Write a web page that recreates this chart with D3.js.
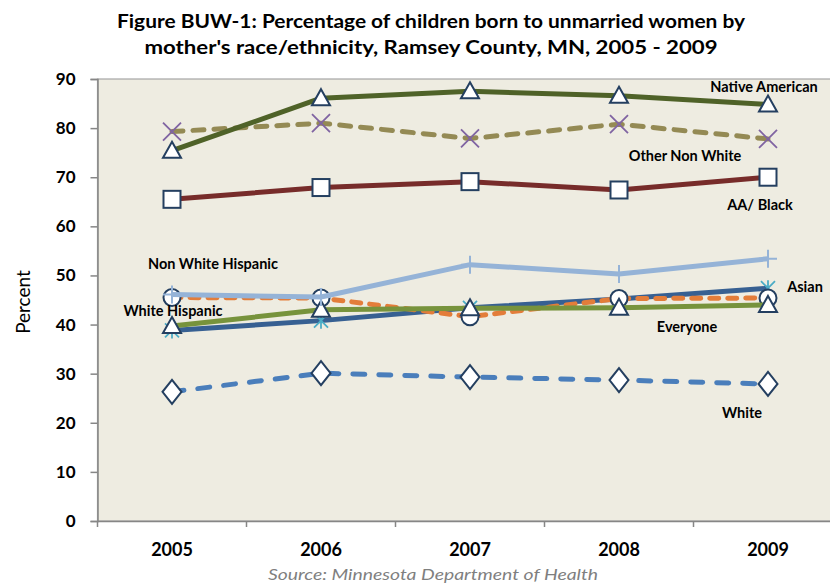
<!DOCTYPE html>
<html>
<head>
<meta charset="utf-8">
<script src="https://cdn.jsdelivr.net/npm/d3@7"></script>
<style>
  body { margin: 0; background: #fff; }
  svg { display: block; }
</style>
</head>
<body>
<div id="chart"></div>
<script>
// data
const years = ["2005", "2006", "2007", "2008", "2009"];
const white = [26.3, 30.1, 29.3, 28.7, 27.9];
const aaBlack = [65.5, 67.9, 69.1, 67.4, 70.0];
const otherNonWhite = [79.3, 81.0, 77.9, 80.8, 77.8];
const nativeAmerican = [75.4, 86.1, 87.5, 86.6, 84.8];
const asian = [38.8, 40.8, 43.4, 45.2, 47.4];
const whiteHispanic = [45.5, 45.4, 41.6, 45.3, 45.4];
const everyone = [39.7, 43.0, 43.3, 43.4, 44.0];
const nonWhiteHispanic = [46.1, 45.6, 52.2, 50.3, 53.4];
const yTicks = [0, 10, 20, 30, 40, 50, 60, 70, 80, 90];

const width = 830;
const height = 587;
const plot = { left: 97.5, right: 842.5, top: 79, bottom: 521 };
const navy = "#243F60";

// drawing order matters: later series sit on top
const series = [
  { name: "White", values: white, color: "#4A7EBB", dash: "12,14", marker: "diamond" },
  { name: "AA/ Black", values: aaBlack, color: "#772C2A", dash: null, marker: "square" },
  { name: "Other Non White", values: otherNonWhite, color: "#948A54", dash: "11,10", marker: "x" },
  { name: "Native American", values: nativeAmerican, color: "#4F6228", dash: null, marker: "triangle" },
  { name: "Asian", values: asian, color: "#376092", dash: null, marker: "star" },
  { name: "White Hispanic", values: whiteHispanic, color: "#E37D3A", dash: "9,9", marker: "circle" },
  { name: "Everyone", values: everyone, color: "#77933C", dash: null, marker: "triangle" },
  { name: "Non White Hispanic", values: nonWhiteHispanic, color: "#95B3D7", dash: null, marker: "plus" }
];

// label placement: anchor year + pixel shift, and a value for the baseline
const labels = [
  { text: "Native American", year: "2009", dx: -4, v: 87.3 },
  { text: "Other Non White", year: "2009", dx: -83, v: 73.4 },
  { text: "AA/ Black", year: "2009", dx: -8, v: 63.3 },
  { text: "Non White Hispanic", year: "2005", dx: 41, v: 51.3 },
  { text: "White Hispanic", year: "2005", dx: 1, v: 41.8 },
  { text: "Asian", year: "2009", dx: 37, v: 46.6 },
  { text: "Everyone", year: "2008", dx: 68, v: 38.5 },
  { text: "White", year: "2009", dx: -26, v: 21.0 }
];

const svg = d3.select("#chart")
  .append("svg")
  .attr("width", width)
  .attr("height", height)
  .attr("viewBox", `0 0 ${width} ${height}`);

const x = d3.scaleBand().domain(years).range([plot.left, plot.right]).padding(0);
const cx = d => x(d) + x.bandwidth() / 2;
const y = d3.scaleLinear().domain([0, 90]).range([plot.bottom, plot.top]);

// plot area
svg.append("rect")
  .attr("x", plot.left)
  .attr("y", plot.top)
  .attr("width", plot.right - plot.left)
  .attr("height", plot.bottom - plot.top)
  .attr("fill", "#EEECE1")
  .attr("stroke", "#A6A6A6")
  .attr("stroke-width", 1.2);

// y axis
const yAxis = svg.append("g")
  .attr("transform", `translate(${plot.left},0)`)
  .call(d3.axisLeft(y).tickValues(yTicks).tickSize(7).tickPadding(15).tickFormat(d3.format("d")));
yAxis.select(".domain").attr("stroke", "#868686").attr("stroke-width", 1.5);
yAxis.selectAll(".tick line").attr("stroke", "#868686").attr("stroke-width", 1.5);
yAxis.selectAll("text")
  .attr("font-family", "Lato, sans-serif")
  .attr("font-weight", "bold")
  .attr("font-size", 17)
  .attr("fill", "#000");

// x axis: labels at band centres, ticks at band edges
const xAxis = svg.append("g")
  .attr("transform", `translate(0,${plot.bottom})`)
  .call(d3.axisBottom(x).tickSize(0).tickPadding(22));
xAxis.select(".domain").attr("stroke", "#868686").attr("stroke-width", 1.5);
xAxis.selectAll("text")
  .attr("font-family", "Lato, sans-serif")
  .attr("font-weight", "bold")
  .attr("font-size", 18)
  .attr("fill", "#000");
xAxis.selectAll(".edge")
  .data(years.map(d => x(d)).concat([x(years[years.length - 1]) + x.bandwidth()]))
  .join("line")
  .attr("class", "edge")
  .attr("x1", d => d).attr("x2", d => d)
  .attr("y1", 0).attr("y2", 6)
  .attr("stroke", "#868686")
  .attr("stroke-width", 1.5);

// y axis title
svg.append("text")
  .attr("transform", `translate(30,${(plot.top + plot.bottom) / 2 + 2}) rotate(-90)`)
  .attr("text-anchor", "middle")
  .attr("font-family", "Lato, sans-serif")
  .attr("font-size", 19)
  .attr("fill", "#000")
  .text("Percent");

// markers
function drawMarker(g, type, px, py) {
  const m = g.append("g").attr("transform", `translate(${px},${py})`);
  if (type === "triangle") {
    m.append("path").attr("d", "M0,-9L9,7L-9,7Z")
      .attr("fill", "#fff").attr("stroke", navy).attr("stroke-width", 2).attr("stroke-linejoin", "miter");
  } else if (type === "square") {
    m.append("rect").attr("x", -8.5).attr("y", -8.5).attr("width", 17).attr("height", 17)
      .attr("fill", "#fff").attr("stroke", navy).attr("stroke-width", 2);
  } else if (type === "circle") {
    m.append("circle").attr("r", 8.5)
      .attr("fill", "#fff").attr("stroke", navy).attr("stroke-width", 2);
  } else if (type === "diamond") {
    m.append("path").attr("d", "M0,-12L9.5,0L0,12L-9.5,0Z")
      .attr("fill", "#fff").attr("stroke", navy).attr("stroke-width", 2);
  } else if (type === "x") {
    m.append("path").attr("d", "M-9,-9L9,9M-9,9L9,-9")
      .attr("stroke", "#8064A2").attr("stroke-width", 1.8).attr("fill", "none");
  } else if (type === "star") {
    m.append("path").attr("d", "M-7,-7L7,7M-7,7L7,-7M0,-8L0,8")
      .attr("stroke", "#4BACC6").attr("stroke-width", 1.8).attr("fill", "none");
  } else if (type === "plus") {
    m.append("path").attr("d", "M0,-9L0,9M-9,0L9,0")
      .attr("stroke", "#95B3D7").attr("stroke-width", 2).attr("fill", "none");
  }
}

const line = d3.line()
  .x((d, i) => cx(years[i]))
  .y(d => y(d));

const seriesG = svg.append("g");
series.forEach(s => {
  const g = seriesG.append("g").attr("class", "series");
  g.append("path")
    .datum(s.values)
    .attr("d", line)
    .attr("fill", "none")
    .attr("stroke", s.color)
    .attr("stroke-width", 5)
    .attr("stroke-linejoin", "round")
    .attr("stroke-linecap", s.dash ? "round" : "butt")
    .attr("stroke-dasharray", s.dash);
  s.values.forEach((v, i) => drawMarker(g, s.marker, cx(years[i]), y(v)));
});

// series labels
svg.append("g")
  .selectAll("text")
  .data(labels)
  .join("text")
  .attr("x", d => cx(d.year) + d.dx)
  .attr("y", d => y(d.v))
  .attr("text-anchor", "middle")
  .attr("font-family", "Lato, sans-serif")
  .attr("font-weight", "bold")
  .attr("font-size", 14.5)
  .attr("fill", "#000")
  .text(d => d.text);

// title
const titleLines = [
  { text: "Figure BUW-1: Percentage of children born to unmarried women by", y: 28, len: 628 },
  { text: "mother's race/ethnicity, Ramsey County, MN, 2005 - 2009", y: 54, len: 573 }
];
svg.append("g")
  .selectAll("text")
  .data(titleLines)
  .join("text")
  .attr("x", 431)
  .attr("y", d => d.y)
  .attr("text-anchor", "middle")
  .attr("font-family", "Lato, sans-serif")
  .attr("font-weight", "bold")
  .attr("font-size", 19)
  .attr("textLength", d => d.len)
  .attr("lengthAdjust", "spacingAndGlyphs")
  .attr("fill", "#000")
  .text(d => d.text);

// source note
svg.append("text")
  .attr("x", 433)
  .attr("y", 580)
  .attr("text-anchor", "middle")
  .attr("font-family", "Lato, sans-serif")
  .attr("font-style", "italic")
  .attr("font-size", 16)
  .attr("textLength", 330)
  .attr("lengthAdjust", "spacingAndGlyphs")
  .attr("fill", "#7F7F7F")
  .text("Source: Minnesota Department of Health");
</script>
</body>
</html>
